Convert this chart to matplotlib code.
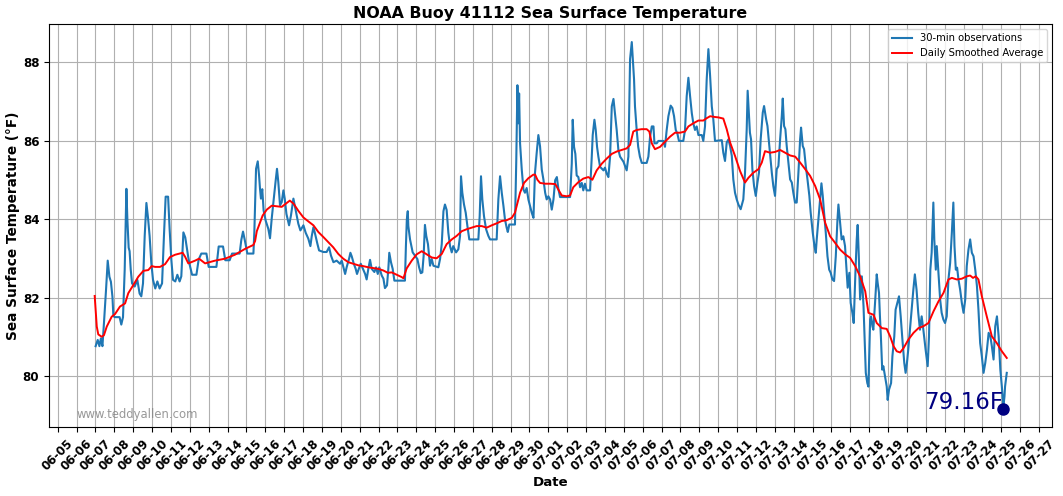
import matplotlib
matplotlib.use('Agg')
import matplotlib.pyplot as plt
import matplotlib.dates as mdates
import numpy as np
from datetime import datetime

# ---------------- data (days since 2024-06-05 00:00, temperature in °F) ----------------
start = datetime(2024, 6, 5)

obs_day = [
    2.01, 2.12, 2.21, 2.29, 2.37, 2.45, 2.56, 2.65, 2.74, 2.82, 2.90, 2.95, 3.02, 3.28, 3.37, 3.46,
    3.55, 3.64, 3.69, 3.76, 3.81, 3.87, 3.94, 4.08, 4.22, 4.34, 4.43, 4.52, 4.61, 4.70, 4.79, 4.87,
    4.96, 5.05, 5.17, 5.28, 5.40, 5.53, 5.63, 5.72, 5.85, 5.93, 6.02, 6.11, 6.23, 6.34, 6.46, 6.55,
    6.66, 6.76, 6.91, 6.99, 7.12, 7.35, 7.47, 7.61, 7.88, 8.00, 8.41, 8.53, 8.76, 8.88, 9.11, 9.24,
    9.64, 9.73, 9.82, 9.91, 10.05, 10.37, 10.42, 10.51, 10.60, 10.67, 10.72, 10.77, 10.84, 10.91,
    11.02, 11.16, 11.25, 11.34, 11.45, 11.55, 11.62, 11.69, 11.78, 11.87, 11.96, 12.03, 12.12,
    12.26, 12.36, 12.49, 12.61, 12.75, 12.86, 13.02, 13.14, 13.28, 13.39, 13.46, 13.55, 13.64,
    13.76, 13.85, 14.08, 14.25, 14.38, 14.48, 14.61, 14.78, 14.96, 15.05, 15.15, 15.23, 15.31,
    15.44, 15.51, 15.58, 15.69, 15.79, 15.86, 15.97, 16.06, 16.16, 16.29, 16.37, 16.46, 16.55,
    16.64, 16.78, 16.87, 16.96, 17.04, 17.17, 17.26, 17.34, 17.45, 17.52, 17.57, 17.66, 17.75,
    17.84, 18.40, 18.45, 18.50, 18.55, 18.58, 18.67, 18.81, 18.94, 19.06, 19.15, 19.24, 19.32,
    19.39, 19.46, 19.53, 19.62, 19.73, 19.82, 19.91, 20.17, 20.26, 20.35, 20.44, 20.52, 20.61,
    20.70, 20.79, 20.88, 20.96, 21.11, 21.23, 21.32, 21.37, 21.44, 21.53, 21.62, 21.71, 21.81,
    22.29, 22.36, 22.43, 22.50, 22.59, 22.70, 22.82, 22.91, 23.26, 23.35, 23.44, 23.53, 23.62,
    23.70, 23.79, 23.85, 23.93, 24.23, 24.30, 24.36, 24.41, 24.45, 24.50, 24.59, 24.68, 24.76,
    24.85, 24.94, 25.03, 25.12, 25.21, 25.29, 25.38, 25.47, 25.56, 25.65, 25.74, 25.83, 25.91,
    26.00, 26.09, 26.18, 26.27, 26.36, 26.45, 26.53, 26.62, 27.15, 27.24, 27.29, 27.36, 27.43,
    27.50, 27.59, 27.68, 27.77, 27.85, 27.94, 28.03, 28.21, 28.30, 28.35, 28.44, 28.51, 28.58,
    28.65, 28.74, 28.92, 29.00, 29.09, 29.18, 29.27, 29.36, 29.45, 29.53, 29.62, 29.71, 29.80,
    29.98, 30.15, 30.24, 30.33, 30.42, 30.47, 30.54, 30.59, 30.68, 30.76, 30.85, 30.95, 31.21,
    31.30, 31.39, 31.48, 31.57, 31.62, 31.74, 31.83, 32.10, 32.18, 32.27, 32.36, 32.48, 32.57,
    32.66, 32.75, 32.84, 32.92, 33.15, 33.24, 33.33, 33.42, 33.51, 33.60, 33.68, 33.77, 33.86,
    33.95, 34.13, 34.21, 34.30, 34.39, 34.48, 34.57, 34.66, 34.74, 34.83, 35.19, 35.27, 35.36,
    35.45, 35.54, 35.63, 35.72, 35.80, 35.89, 35.98, 36.07, 36.19, 36.33, 36.42, 36.51, 36.56,
    36.63, 36.68, 36.74, 36.81, 36.90, 36.99, 37.08, 37.16, 37.25, 37.36, 37.43, 37.54, 37.61,
    37.71, 37.84, 37.92, 38.01, 38.10, 38.19, 38.28, 38.37, 38.42, 38.49, 38.56, 38.63, 38.72,
    38.81, 38.90, 38.98, 39.07, 39.16, 39.25, 39.34, 39.39, 39.48, 39.55, 39.64, 39.73, 39.83,
    39.90, 40.01, 40.10, 40.17, 40.22, 40.31, 40.40, 40.47, 40.54, 40.61, 40.70, 40.79, 40.88,
    40.96, 41.05, 41.14, 41.23, 41.32, 41.37, 41.46, 41.54, 41.63, 41.72, 41.81, 41.86, 41.95,
    42.02, 42.11, 42.18, 42.27, 42.34, 42.39, 42.45, 42.52, 42.61, 42.70, 42.76, 42.82, 42.90,
    42.96, 43.00, 43.05, 43.10, 43.17, 43.22, 43.31, 43.40, 43.45, 43.52, 43.57, 43.62, 43.69,
    43.75, 43.84, 43.93, 43.98, 44.05, 44.16, 44.23, 44.33, 44.40, 44.49, 44.58, 44.67, 44.76,
    44.86, 44.93, 45.00, 45.07, 45.16, 45.25, 45.34, 45.42, 45.51, 45.60, 45.69, 45.78, 45.87,
    45.99, 46.10, 46.17, 46.24, 46.31, 46.40, 46.45, 46.53, 46.58, 46.67, 46.76, 46.84, 46.93,
    47.02, 47.11, 47.20, 47.29, 47.38, 47.46, 47.52, 47.59, 47.66, 47.73, 47.82, 47.91, 48.00,
    48.09, 48.17, 48.26, 48.35, 48.44, 48.53, 48.62, 48.71, 48.79, 48.88, 48.97, 49.06, 49.15,
    49.24, 49.33, 49.42, 49.50, 49.59, 49.68, 49.77, 49.86, 49.95, 50.03, 50.11, 50.17, 50.20,
    50.29,
]

obs_temp = [
    80.77, 80.93, 80.77, 80.97, 80.77, 81.35, 82.20, 82.95, 82.54, 82.41, 82.03, 81.54, 81.51, 81.51, 81.32, 81.51,
    82.72, 84.78, 84.02, 83.28, 83.19, 82.72, 82.37, 82.29, 82.46, 82.11, 82.04, 82.37, 83.58, 84.42, 84.02, 83.58,
    82.89, 82.46, 82.24, 82.42, 82.24, 82.37, 83.58, 84.58, 84.58, 83.76, 82.98, 82.46, 82.42, 82.59, 82.42, 82.55,
    83.67, 83.54, 83.06, 82.85, 82.59, 82.59, 82.98, 83.13, 83.13, 82.79, 82.79, 83.31, 83.31, 82.96, 82.96, 83.13,
    83.13, 83.48, 83.69, 83.48, 83.13, 83.13, 83.68, 85.29, 85.48, 85.12, 84.78, 84.53, 84.77, 84.23,
    83.97, 83.76, 83.52, 84.02, 84.53, 84.99, 85.29, 84.95, 84.36, 84.44, 84.74, 84.53, 84.14,
    83.85, 84.10, 84.53, 84.23, 83.89, 83.72, 83.85, 83.66, 83.51, 83.32, 83.57, 83.80, 83.63,
    83.38, 83.21, 83.17, 83.17, 83.29, 83.08, 82.91, 82.95, 82.87, 82.95, 82.76, 82.61, 82.78,
    83.00, 83.15, 83.06, 82.87, 82.74, 82.61, 82.76, 82.87, 82.76, 82.61, 82.47, 82.74, 82.97,
    82.74, 82.66, 82.78, 82.61, 82.78, 82.57, 82.49, 82.25, 82.32, 82.74, 83.15, 82.91, 82.74,
    82.44, 82.44, 83.30, 84.00, 84.21, 83.83, 83.49, 83.16, 83.07, 82.99, 82.78, 82.63, 82.65,
    83.07, 83.86, 83.58, 83.37, 82.82, 82.99, 82.82, 82.78, 82.99, 83.37, 84.21, 84.38, 84.24,
    83.66, 83.32, 83.16, 83.32, 83.16, 83.24, 83.58, 85.10, 84.68, 84.38, 84.17, 83.83, 83.49,
    83.49, 84.08, 85.10, 84.51, 84.08, 83.75, 83.58, 83.49, 83.49, 84.51, 85.10, 84.68, 84.34,
    84.00, 83.79, 83.68, 83.87, 83.87, 85.52, 87.42, 86.45, 87.21, 85.94, 85.27, 84.76, 84.68,
    84.80, 84.51, 84.34, 84.17, 84.04, 85.18, 85.69, 86.15, 85.86, 85.27, 85.01, 84.68, 84.51,
    84.59, 84.51, 84.25, 84.51, 85.00, 85.08, 84.78, 84.57, 84.57, 85.42, 86.54, 85.85, 85.67,
    85.12, 85.08, 84.82, 84.93, 84.74, 84.91, 84.74, 84.74, 85.60, 86.15, 86.54, 86.28, 85.85,
    85.60, 85.34, 85.25, 85.32, 85.17, 85.08, 85.60, 86.88, 87.07, 86.71, 86.28, 85.77, 85.60,
    85.47, 85.25, 85.60, 88.09, 88.52, 88.13, 87.57, 86.88, 86.28, 85.85, 85.60, 85.44, 85.44,
    85.60, 86.11, 86.37, 86.37, 85.94, 85.94, 86.00, 86.00, 85.85, 86.28, 86.63, 86.90, 86.84,
    86.63, 86.28, 86.18, 86.00, 86.00, 86.28, 87.14, 87.61, 87.14, 86.71, 86.45, 86.28, 86.37,
    86.15, 86.15, 86.00, 86.37, 87.57, 88.34, 87.66, 86.88, 86.55, 86.00, 86.02, 85.70, 85.49,
    85.96, 86.04, 85.87, 85.62, 85.02, 84.68, 84.51, 84.38, 84.26, 84.51, 85.19, 86.30, 87.28,
    86.64, 86.21, 86.04, 85.28, 84.85, 84.60, 84.94, 85.19, 86.04, 86.72, 86.89, 86.55, 86.38,
    85.87, 85.19, 84.85, 84.60, 85.28, 85.36, 86.04, 86.64, 87.08, 86.38, 86.30, 85.87, 85.45,
    85.02, 84.94, 84.68, 84.43, 84.43, 85.19, 86.04, 86.34, 85.87, 85.79, 85.36, 85.02, 84.60,
    84.17, 83.66, 83.32, 83.15, 83.49, 84.00, 84.51, 84.92, 84.60, 84.17, 83.66, 83.06, 82.72,
    82.64, 82.47, 82.43, 83.06, 84.00, 84.38, 83.91, 83.49, 83.57, 83.32, 82.64, 82.26, 82.64,
    81.87, 81.62, 81.36, 82.64, 83.49, 83.86, 83.06, 81.96, 82.55, 81.79, 80.90, 80.09, 79.83,
    79.74, 80.51, 81.45, 81.53, 81.28, 81.19, 81.87, 82.60, 82.38, 82.13, 81.53, 81.02, 80.17,
    80.26, 80.00, 79.74, 79.40, 79.66, 79.83, 80.51, 81.02, 81.70, 81.87, 82.04, 81.53, 80.94,
    80.34, 80.09, 80.34, 80.68, 81.19, 81.70, 82.21, 82.60, 82.21, 81.62, 81.19, 81.53, 81.19,
    80.68, 80.26, 81.02, 82.72, 83.15, 84.43, 83.49, 82.72, 83.32, 82.64, 81.96, 81.62, 81.45,
    81.36, 81.53, 82.47, 82.89, 83.66, 84.43, 83.32, 82.72, 82.77, 82.47, 82.21, 81.87, 81.62,
    81.96, 82.81, 83.23, 83.49, 83.15, 83.06, 82.72, 82.30, 81.70, 80.85, 80.51, 80.09, 80.34,
    80.68, 81.11, 81.02, 80.77, 80.43, 81.28, 81.53, 81.02, 80.17, 79.74, 79.23, 79.49, 79.74,
    80.09,
]

smooth_day = [
    1.96, 2.07, 2.15, 2.33, 2.45, 2.60, 2.86, 3.04, 3.30, 3.57, 3.74, 4.01, 4.27, 4.54, 4.80, 4.98,
    5.16, 5.42, 5.69, 5.95, 6.22, 6.62, 6.75, 6.92, 7.28, 7.49, 7.81, 8.34, 8.87, 9.39, 9.93,
    10.37, 10.46, 10.55, 10.72, 10.86, 11.08, 11.34, 11.69, 11.87, 12.14, 12.30, 12.50, 12.75,
    13.02, 13.28, 13.55, 13.81, 14.08, 14.34, 14.60, 14.87, 15.13, 15.40, 15.66, 15.93, 16.19,
    16.46, 16.72, 16.99, 17.25, 17.49, 17.70, 17.96, 18.23, 18.32, 18.49, 18.76, 19.02, 19.29,
    19.55, 19.82, 20.08, 20.35, 20.61, 20.88, 21.14, 21.41, 21.67, 21.94, 22.20, 22.47, 22.73,
    23.00, 23.26, 23.53, 23.79, 24.06, 24.23, 24.36, 24.50, 24.71, 24.94, 25.20, 25.30, 25.42,
    25.56, 25.83, 26.10, 26.37, 26.54, 26.71, 26.97, 27.15, 27.32, 27.59, 27.85, 28.12, 28.33,
    28.56, 28.83, 29.09, 29.36, 29.62, 29.89, 30.15, 30.33, 30.50, 30.68, 30.94, 31.21, 31.35,
    31.48, 31.65, 31.92, 32.18, 32.45, 32.71, 32.98, 33.24, 33.42, 33.68, 33.95, 34.21, 34.39,
    34.57, 34.83, 35.01, 35.27, 35.45, 35.63, 35.89, 36.16, 36.42, 36.60, 36.86, 37.13, 37.31,
    37.48, 37.75, 38.01, 38.28, 38.55, 38.81, 39.08, 39.34, 39.61, 39.87, 40.14, 40.40, 40.67,
    40.93, 41.20, 41.46, 41.73, 41.99, 42.26, 42.52, 42.79, 42.96, 43.23, 43.40, 43.67, 43.93,
    44.11, 44.29, 44.46, 44.64, 44.82, 45.08, 45.35, 45.61, 45.88, 46.14, 46.41, 46.67, 46.94,
    47.20, 47.38, 47.64, 47.91, 48.17, 48.35, 48.50, 48.65, 48.79, 48.97, 49.23, 49.50, 49.76,
    50.03, 50.29,
]

smooth_temp = [
    82.05, 81.27, 81.07, 81.01, 81.05, 81.27, 81.52, 81.59, 81.78, 81.86, 82.12, 82.33, 82.54, 82.69, 82.71, 82.81,
    82.79, 82.79, 82.86, 83.04, 83.10, 83.15, 83.05, 82.88, 82.95, 83.00, 82.88, 82.95, 83.00, 83.10, 83.25,
    83.35, 83.45, 83.70, 83.92, 84.10, 84.25, 84.35, 84.33, 84.32, 84.42, 84.48, 84.40, 84.22,
    84.05, 83.95, 83.85, 83.68, 83.55, 83.42, 83.29, 83.12, 83.00, 82.91, 82.87, 82.83, 82.81,
    82.78, 82.76, 82.74, 82.70, 82.64, 82.65, 82.59, 82.53, 82.50, 82.75, 82.95, 83.11, 83.19,
    83.11, 83.03, 83.01, 83.12, 83.37, 83.49, 83.58, 83.70, 83.75, 83.79, 83.83, 83.83, 83.79,
    83.85, 83.90, 83.96, 83.98, 84.04, 84.17, 84.42, 84.68, 84.93, 85.05, 85.14, 85.14, 85.01,
    84.93, 84.91, 84.91, 84.90, 84.75, 84.61, 84.59, 84.61, 84.82, 84.95, 85.04, 85.08, 85.01,
    85.25, 85.42, 85.55, 85.67, 85.73, 85.77, 85.81, 85.90, 86.24, 86.28, 86.30, 86.30, 86.24,
    85.94, 85.79, 85.85, 85.98, 86.11, 86.21, 86.21, 86.24, 86.37, 86.45, 86.52, 86.52, 86.58,
    86.63, 86.61, 86.60, 86.57, 86.30, 85.96, 85.62, 85.23, 84.94, 85.06, 85.19, 85.28, 85.45,
    85.74, 85.70, 85.72, 85.77, 85.70, 85.63, 85.60, 85.45, 85.28, 85.11, 84.85, 84.51, 83.91,
    83.57, 83.40, 83.23, 83.11, 83.02, 82.81, 82.55, 82.17, 81.62, 81.57, 81.36, 81.23, 81.21,
    81.02, 80.77, 80.64, 80.61, 80.72, 80.94, 81.11, 81.23, 81.28, 81.36, 81.66, 81.91, 82.13,
    82.47, 82.51, 82.47, 82.49, 82.55, 82.57, 82.51, 82.55, 82.47, 82.04, 81.53, 81.02, 80.85,
    80.64, 80.47,
]

latest_day = 50.11
latest_temp = 79.16

title = "NOAA Buoy 41112 Sea Surface Temperature"
xlabel = "Date"
ylabel = "Sea Surface Temperature (°F)"
obs_label = "30-min observations"
smooth_label = "Daily Smoothed Average"
watermark = "www.teddyallen.com"
y_ticks = [80, 82, 84, 86, 88]

# ---------------- plot ----------------
t0 = mdates.date2num(start)
obs_x = t0 + np.array(obs_day)
smooth_x = t0 + np.array(smooth_day)

fig = plt.figure(figsize=(10.63, 4.96), dpi=100)
ax = fig.add_axes([0.0461, 0.1391, 0.9436, 0.8125])

ax.plot(obs_x, obs_temp, color='#1f77b4', linewidth=1.5, label=obs_label)
ax.plot(smooth_x, smooth_temp, color='red', linewidth=1.4, label=smooth_label)
ax.plot([t0 + latest_day], [latest_temp], 'o', color='navy', markersize=8)
ax.text(t0 + latest_day, latest_temp, f"{latest_temp:.2f}F", color='navy',
        fontsize=16.5, ha='right', va='baseline')

ax.set_xlim(t0 - 0.461, t0 + 52.69)
ax.set_ylim(78.71, 88.98)
ax.set_yticks(y_ticks)

ax.xaxis.set_major_locator(mdates.DayLocator(interval=1))
ax.xaxis.set_major_formatter(mdates.DateFormatter('%m-%d'))

ax.grid(True, color='#b0b0b0', linewidth=0.8)
ax.set_axisbelow(True)

ax.tick_params(axis='both', labelsize=8.6)
plt.setp(ax.get_xticklabels(), rotation=45, fontweight='bold')
plt.setp(ax.get_yticklabels(), fontweight='bold')

ax.set_title(title, fontsize=11.4, fontweight='bold', pad=4)
ax.set_xlabel(xlabel, fontsize=9.6, fontweight='bold', labelpad=2)
ax.set_ylabel(ylabel, fontsize=9.8, fontweight='bold', labelpad=2)

ax.legend(loc='upper right', fontsize=7.2)

ax.text(0.027, 0.022, watermark, transform=ax.transAxes, color='gray',
        fontsize=8.4, alpha=0.8, va='baseline')

fig.savefig('out.png', dpi=100)
